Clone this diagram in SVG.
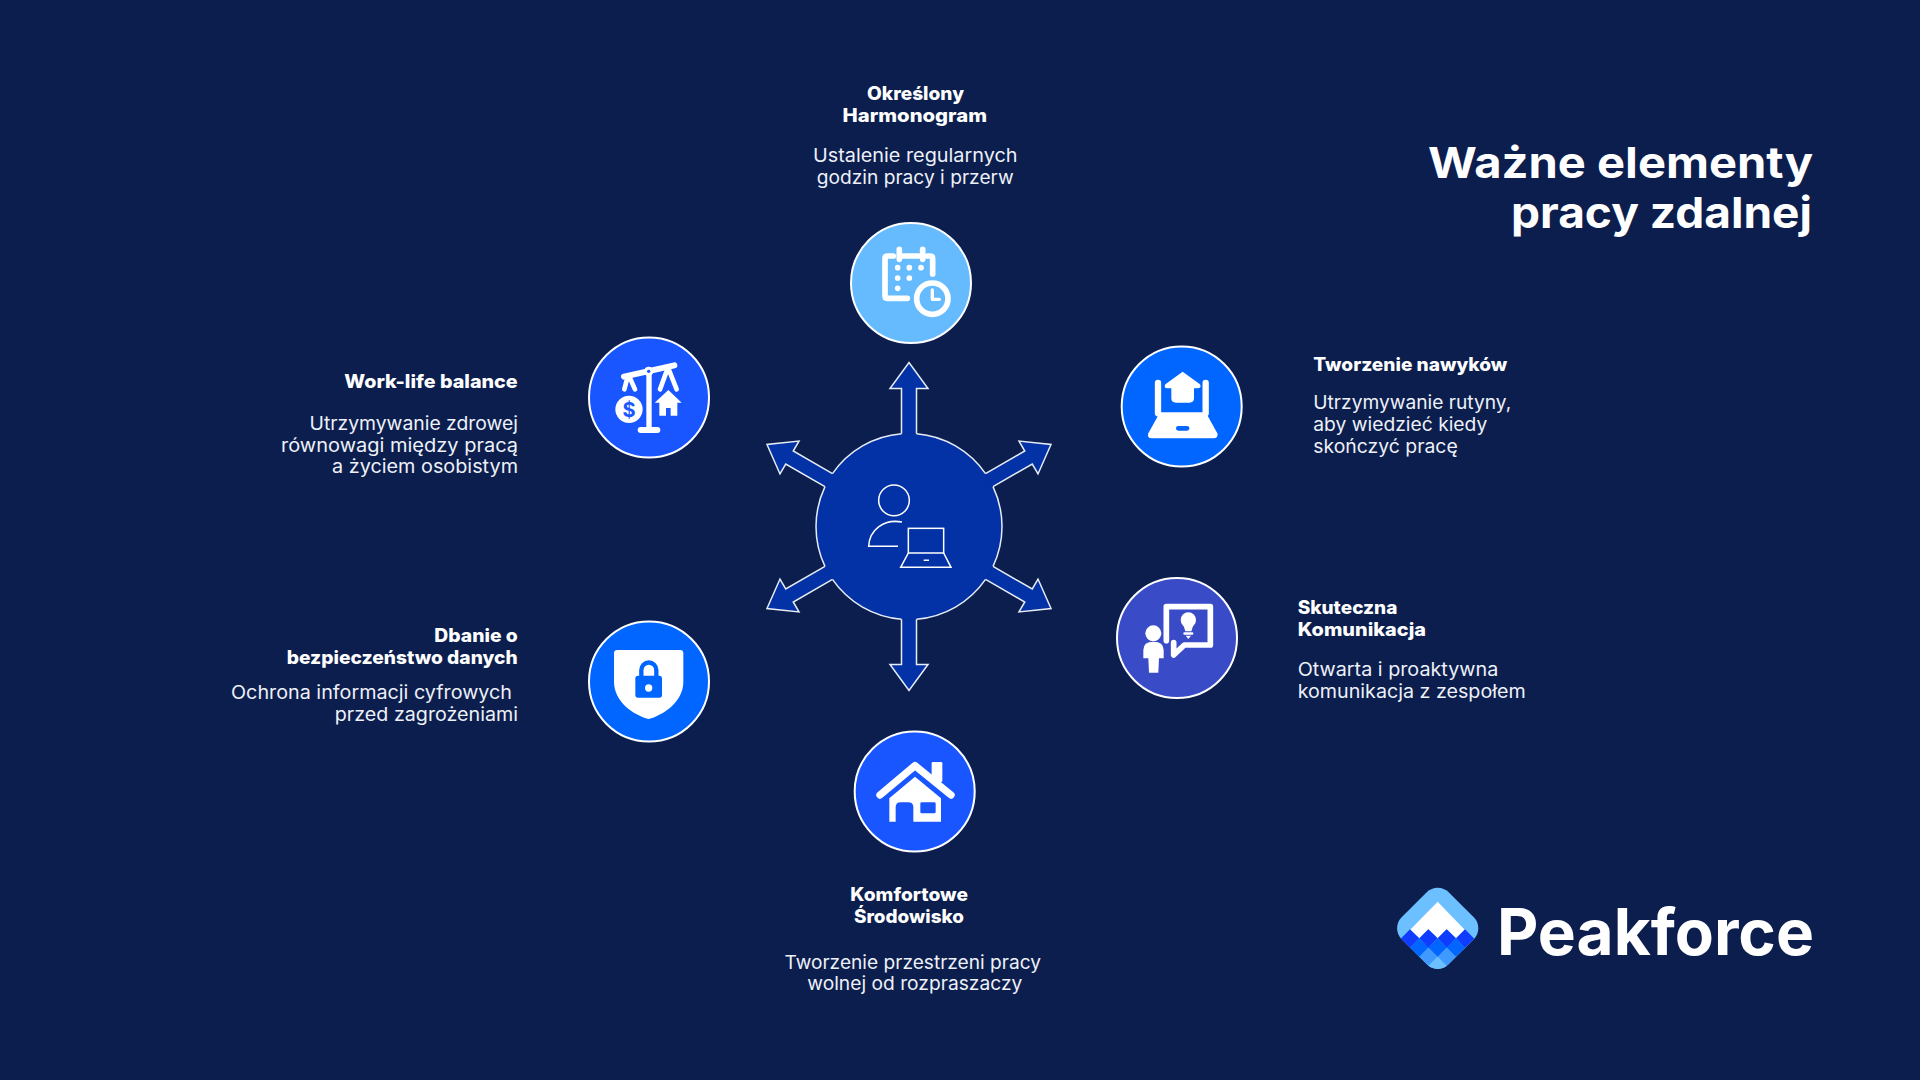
<svg xmlns="http://www.w3.org/2000/svg" width="1920" height="1080" viewBox="0 0 1920 1080">
<style>
text{font-family:"Inter","Liberation Sans",sans-serif;fill:#fff}
.b{font-size:18.5px;font-weight:800}
.r{font-size:18.5px;font-weight:400;fill:#eef1f8}
.t{font-size:43px;font-weight:700}
.logo{font-size:64px;font-weight:700}
.disc{stroke:#fff;stroke-width:2}
.w{fill:#fff}
.ws{fill:none;stroke:#fff;stroke-linecap:round;stroke-linejoin:round}
.arrow{fill:#0332A6;stroke:#E8ECF6;stroke-width:1.5;stroke-linejoin:miter}
.thin{fill:none;stroke:#fff;stroke-width:4.5}
</style>
<rect width="1920" height="1080" fill="#0B1E4E"/>

<g id="node-center" transform="translate(0,.5)">
<circle cx="909" cy="526" r="93" fill="#0332A6"/>
<path d="M916.5 433.3A93 93 0 0 1 985.53 473.15M993.03 486.15A93 93 0 0 1 993.03 565.85M985.53 578.85A93 93 0 0 1 916.5 618.7M901.5 618.7A93 93 0 0 1 832.47 578.85M824.97 565.85A93 93 0 0 1 824.97 486.15M832.47 473.15A93 93 0 0 1 901.5 433.3" fill="none" stroke="#E8ECF6" stroke-width="1.5"/>
</g>
<g id="center-icon" transform="translate(740,340) scale(.33333)">
<circle class="thin" cx="462" cy="481" r="46"/>
<path class="thin" d="M486 546C430 536 388 570 386 619H474"/>
<rect class="thin" x="505" y="565" width="106" height="74"/>
<path class="thin" d="M505 639L482 682H633L611 639M551 661H567"/>
</g>

<g id="connectors" transform="translate(0,.5)">
<path class="arrow" d="M901.5 433.3V388H890L909 362L928 388H916.500V433.3"/>
<path class="arrow" d="M985.53 473.15L1024.76 450.5L1019.01 440.55L1051.02 444L1038.01 473.45L1032.26 463.5L993.03 486.15"/>
<path class="arrow" d="M993.03 565.85L1032.26 588.5L1038.01 578.55L1051.02 608L1019.01 611.45L1024.76 601.5L985.53 578.85"/>
<path class="arrow" d="M916.5 618.7V664H928L909 690L890 664H901.5V618.7"/>
<path class="arrow" d="M832.47 578.85L793.24 601.5L798.99 611.45L766.98 608L779.99 578.55L785.74 588.5L824.97 565.85"/>
<path class="arrow" d="M824.97 486.15L785.74 463.5L779.99 473.45L766.98 444L798.99 440.55L793.24 450.5L832.47 473.15"/>
</g>

<g id="node-harmonogram">
<circle class="disc" cx="911" cy="283" r="60" fill="#66BBFF"/>
<g transform="translate(830,210) scale(.33333)">
<path class="ws" stroke-width="17" d="M232 265H172Q165 265 165 258V145Q165 138 172 138H190M208 118V148M220 138H266M278 118V148M292 138H300Q308 138 308 145V192"/>
<g class="w"><circle cx="203" cy="173" r="8.500"/><circle cx="238" cy="173" r="8.500"/><circle cx="273" cy="173" r="8.500"/><circle cx="203" cy="204" r="8.500"/><circle cx="238" cy="204" r="8.500"/><circle cx="203" cy="235" r="8.500"/></g>
<circle cx="307" cy="266" r="47" fill="none" stroke="#fff" stroke-width="17"/>
<path class="ws" stroke-width="10" d="M307 240V268H328"/>
</g>
<text class="b" x="867" y="100" textLength="97" lengthAdjust="spacingAndGlyphs">Określony</text>
<text class="b" x="842.5" y="121.8" textLength="144.5" lengthAdjust="spacingAndGlyphs">Harmonogram</text>
<text class="r" x="813" y="162" textLength="204.5" lengthAdjust="spacingAndGlyphs">Ustalenie regularnych</text>
<text class="r" x="816.7" y="183.7" textLength="197" lengthAdjust="spacingAndGlyphs">godzin pracy i przerw</text>
</g>

<g id="node-nawyki">
<circle class="disc" cx="1181.7" cy="406.5" r="60" fill="#0066FF"/>
<g transform="translate(1110,335) scale(.33333)">
<path class="w" d="M150 232H287L322 295Q326 310 310 310H125Q110 310 115 295Z"/>
<rect x="198" y="273" width="40" height="14" rx="7" fill="#0066FF"/>
<path class="ws" stroke-width="19" d="M144 144V235M287 144V235"/>
<path class="w" d="M218 110L270 148Q276 160 262 160H252V190Q252 203 238 203H198Q184 203 184 190V160H172Q160 160 166 148Z"/>
</g>
<text class="b" x="1313.3" y="371.3" textLength="194" lengthAdjust="spacingAndGlyphs">Tworzenie nawyków</text>
<text class="r" x="1313.3" y="409.3" textLength="198" lengthAdjust="spacingAndGlyphs">Utrzymywanie rutyny,</text>
<text class="r" x="1313.3" y="431" textLength="174" lengthAdjust="spacingAndGlyphs">aby wiedzieć kiedy</text>
<text class="r" x="1313.3" y="452.7" textLength="144.4" lengthAdjust="spacingAndGlyphs">skończyć pracę</text>
</g>

<g id="node-komunikacja">
<circle class="disc" cx="1177" cy="638" r="60" fill="#3A4BC8"/>
<g transform="translate(1105,570) scale(.33333)">
<path class="ws" stroke-width="17" d="M184 212V110H316V225H238L206 255V218"/>
<g class="w">
<circle cx="250" cy="150" r="23"/>
<path d="M235 165L241 184H259L265 165Z"/>
<rect x="235" y="187" width="30" height="7" rx="3"/>
<path d="M242 197H258L250 207Z"/>
<circle cx="145" cy="190" r="24"/>
<path d="M115 265V240Q115 215 145 215Q176 215 176 240V265H162L160 308H132L130 265Z"/>
</g>
</g>
<text class="b" x="1297.7" y="614" textLength="99.7" lengthAdjust="spacingAndGlyphs">Skuteczna</text>
<text class="b" x="1297.7" y="635.7" textLength="128.3" lengthAdjust="spacingAndGlyphs">Komunikacja</text>
<text class="r" x="1297.7" y="676" textLength="200.6" lengthAdjust="spacingAndGlyphs">Otwarta i proaktywna</text>
<text class="r" x="1297.7" y="697.7" textLength="228" lengthAdjust="spacingAndGlyphs">komunikacja z zespołem</text>
</g>

<g id="node-srodowisko">
<circle class="disc" cx="914.7" cy="791.5" r="60" fill="#1A56FF"/>
<g transform="translate(845,720) scale(.33333)">
<rect class="w" x="260" y="126" width="32" height="60" rx="4"/>
<path class="ws" stroke-width="22" d="M105 225L210 137L318 225"/>
<path class="w" d="M210 170L288 235V305H133V235Z"/>
<path d="M152 306V262Q152 247 167 247H190Q205 247 205 262V306Z" fill="#1A56FF"/>
<rect x="226" y="247" width="46" height="33" rx="4" fill="#1A56FF"/>
</g>
<text class="b" x="850.3" y="901.3" textLength="117.7" lengthAdjust="spacingAndGlyphs">Komfortowe</text>
<text class="b" x="854" y="922.7" textLength="110" lengthAdjust="spacingAndGlyphs">Środowisko</text>
<text class="r" x="784.5" y="968.7" textLength="256.5" lengthAdjust="spacingAndGlyphs">Tworzenie przestrzeni pracy</text>
<text class="r" x="807.3" y="990" textLength="215" lengthAdjust="spacingAndGlyphs">wolnej od rozpraszaczy</text>
</g>

<g id="node-balance">
<circle class="disc" cx="649" cy="397.5" r="60" fill="#1A56FF"/>
<g transform="translate(580,330) scale(.33333)">
<path class="ws" stroke-width="18" d="M132 140L283 106"/>
<path class="ws" stroke-width="16" d="M207 130V298"/>
<path class="ws" stroke-width="18" d="M182 300H232"/>
<path class="ws" stroke-width="14" d="M143 140L133 178M148 140L165 178M263 115L240 178M265 115L290 178"/>
<circle class="w" cx="206" cy="124" r="14"/>
<circle cx="206" cy="124" r="5" fill="#1A56FF"/>
<circle class="w" cx="147" cy="238" r="41"/>
<path class="w" d="M265 180L305 218H292V257H272V234H258V257H238V218H224Z"/>
</g>
<text x="629" y="416.5" text-anchor="middle" style="font-size:20px;font-weight:700;fill:#1A56FF">$</text>
<text class="b" x="344.3" y="388" textLength="173.4" lengthAdjust="spacingAndGlyphs">Work-life balance</text>
<text class="r" x="309.5" y="430.3" textLength="208.5" lengthAdjust="spacingAndGlyphs">Utrzymywanie zdrowej</text>
<text class="r" x="281" y="452" textLength="237" lengthAdjust="spacingAndGlyphs">równowagi między pracą</text>
<text class="r" x="332" y="473.3" textLength="186" lengthAdjust="spacingAndGlyphs">a życiem osobistym</text>
</g>

<g id="node-bezpieczenstwo">
<circle class="disc" cx="649" cy="681.5" r="60" fill="#0066FF"/>
<g transform="translate(580,615) scale(.33333)">
<path class="w" d="M112 105H300Q310 105 310 115V200C310 260 250 300 206 312C160 300 102 260 102 200V115Q102 105 112 105Z"/>
<path d="M184 184V165A22.500 22.500 0 0 1 229 165V184" fill="none" stroke="#0066FF" stroke-width="13"/>
<rect x="166" y="182" width="80" height="66" rx="8" fill="#0066FF"/>
<circle class="w" cx="206" cy="219" r="11"/>
</g>
<text class="b" x="434.3" y="641.8" textLength="83.4" lengthAdjust="spacingAndGlyphs">Dbanie o</text>
<text class="b" x="286.7" y="664" textLength="231" lengthAdjust="spacingAndGlyphs">bezpieczeństwo danych</text>
<text class="r" x="231" y="699.3" textLength="281" lengthAdjust="spacingAndGlyphs">Ochrona informacji cyfrowych</text>
<text class="r" x="334.8" y="721" textLength="183.2" lengthAdjust="spacingAndGlyphs">przed zagrożeniami</text>
</g>

<g id="title">
<text class="t" x="1428" y="178.3" textLength="385" lengthAdjust="spacingAndGlyphs">Ważne elementy</text>
<text class="t" x="1511" y="228" textLength="301" lengthAdjust="spacingAndGlyphs">pracy zdalnej</text>
</g>

<g id="logo">
<defs><clipPath id="dia"><rect x="-33.25" y="-33.25" width="66.5" height="66.5" rx="15.5" transform="translate(1437.7 928.3) rotate(45)"/></clipPath></defs>
<rect x="-33.25" y="-33.25" width="66.5" height="66.5" rx="15.5" transform="translate(1437.7 928.3) rotate(45)" fill="#6CC0FF"/>
<g clip-path="url(#dia)"><g transform="translate(1380,870) scale(.33333)">
<path class="w" d="M173 95L255 180L228 205L200 178L173 205L145 178L118 205L90 180Z"/>
<path fill="#0F3CFF" d="M62 206L90 178L118 205L145 178L173 205L200 178L228 205L255 178L283 206L255 234L228 205L200 234L173 205L145 234L118 205L90 234Z"/>
<path fill="#0066FF" d="M90 233L118 205L145 233L173 205L200 233L228 205L255 233L228 261L200 233L173 261L145 233L118 261Z"/>
<path fill="#4099FF" d="M118 260L145 233L173 260L200 233L228 260L200 288L173 260L145 288Z"/>
<path fill="#6CC0FF" d="M145 288L173 260L200 288L173 316Z"/>
</g></g>
<text class="logo" x="1497" y="954.5" textLength="317" lengthAdjust="spacingAndGlyphs">Peakforce</text>
</g>
</svg>
